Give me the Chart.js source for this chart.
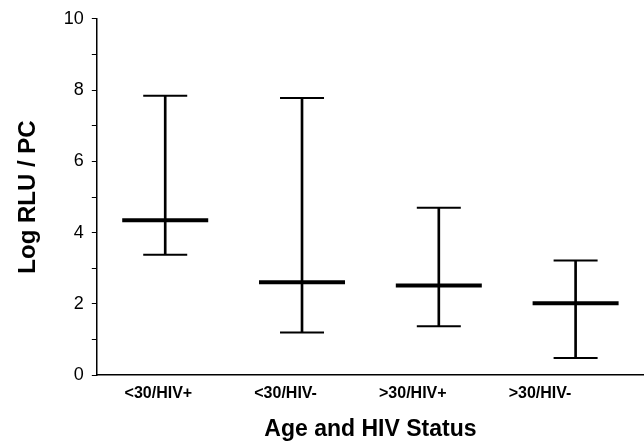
<!DOCTYPE html>
<html>
<head>
    <meta charset="utf-8" />
    <title>Log RLU / PC</title>
    <script src="https://cdn.jsdelivr.net/npm/chart.js"></script>
    <style>
        html, body { margin: 0; padding: 0; background: #fff; }
        #wrap { width: 644px; height: 441px; }
    </style>
</head>
<body>
    <div id="wrap"><canvas id="rluChart"></canvas></div>
    <script>
        // groups and values
        const groups = ['<30/HIV+', '<30/HIV-', '>30/HIV+', '>30/HIV-'];
        const medians = [4.35, 2.61, 2.52, 2.02];
        const lows = [3.38, 1.20, 1.37, 0.48];
        const highs = [7.84, 7.78, 4.70, 3.22];
        const yTicks = [0, 2, 4, 6, 8, 10];

        const F = "'Liberation Sans', Arial, sans-serif";
        const pts = arr => arr.map((v, i) => ({ x: i + 1, y: v }));

        var ctx = document.getElementById('rluChart').getContext('2d');
        var rluChart = new Chart(ctx, {
            type: 'bar',
            data: {
                datasets: [{
                    label: 'Range',
                    data: groups.map((g, i) => ({ x: i + 1, y: [lows[i], highs[i]] })),
                    backgroundColor: '#000',
                    barThickness: 2,
                    order: 3
                }, {
                    type: 'line',
                    label: 'High',
                    data: pts(highs),
                    showLine: false,
                    pointStyle: 'line',
                    pointRadius: 22,
                    pointBorderWidth: 2,
                    borderColor: '#000',
                    order: 2
                }, {
                    type: 'line',
                    label: 'Low',
                    data: pts(lows),
                    showLine: false,
                    pointStyle: 'line',
                    pointRadius: 22,
                    pointBorderWidth: 2,
                    borderColor: '#000',
                    order: 2
                }, {
                    type: 'line',
                    label: 'Median',
                    data: pts(medians),
                    showLine: false,
                    pointStyle: 'line',
                    pointRadius: 43,
                    pointBorderWidth: 4,
                    borderColor: '#000',
                    order: 1
                }]
            },
            options: {
                responsive: true,
                maintainAspectRatio: false,
                animation: false,
                layout: { autoPadding: false, padding: { top: 5, right: 0, left: 14, bottom: 0 } },
                plugins: { legend: { display: false }, tooltip: { enabled: false } },
                scales: {
                    x: {
                        type: 'linear',
                        offset: false,
                        min: 0.5,
                        max: 4.5,
                        grid: { display: false },
                        border: { color: '#000', width: 1.5 },
                        afterBuildTicks: s => { s.ticks = groups.map((g, i) => ({ value: 0.95 + 0.93 * i })); },
                        ticks: {
                            padding: 1,
                            color: '#000',
                            font: { family: F, size: 16, weight: 'bold' },
                            callback: (v, i) => groups[i]
                        },
                        title: {
                            display: true,
                            text: 'Age and HIV Status',
                            color: '#000',
                            font: { family: F, size: 23, weight: 'bold' },
                            padding: { top: 11, bottom: -2 }
                        }
                    },
                    y: {
                        min: 0,
                        max: 10,
                        grid: { drawOnChartArea: false, tickLength: 5, color: '#000', lineWidth: 1 },
                        border: { color: '#000', width: 1.5 },
                        ticks: {
                            stepSize: 1,
                            padding: 8,
                            color: '#000',
                            font: { family: F, size: 18 },
                            callback: v => yTicks.includes(v) ? v : ''
                        },
                        title: {
                            display: true,
                            text: 'Log RLU / PC',
                            color: '#000',
                            font: { family: F, size: 24, weight: 'bold' },
                            padding: { top: 0, bottom: 13 }
                        }
                    }
                }
            }
        });
    </script>
</body>
</html>
